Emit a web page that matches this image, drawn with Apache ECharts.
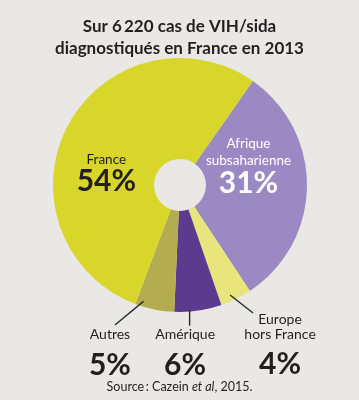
<!DOCTYPE html>
<html><head><meta charset="utf-8">
<script src="https://cdn.jsdelivr.net/npm/echarts@6/dist/echarts.min.js"></script>
<style>html,body{margin:0;padding:0;background:#e9e8e5;}#c{width:359px;height:400px;}</style>
</head><body><div id="c"></div>
<script>
var categories = ['Afrique subsaharienne', 'Europe hors France', 'Amérique', 'Autres', 'France'];
var labelTop = ['Afrique\nsubsaharienne', 'Europe\nhors France', 'Amérique', 'Autres', 'France'];
var values = [31, 4, 6, 5, 54];
var colors = ['#9b89c4', '#e9e57c', '#5c3b8f', '#b3ad50', '#d9d62b'];

var chart = echarts.init(document.getElementById('c'), null, {renderer: 'canvas'});
var FONT = 'Lato, "Open Sans", sans-serif';
var DARK = '#231f20';
// label placement tweaks, as offsets from the anchors of the library's pie layout
var inner = {
  0: {dx: -8, dy: -20},
  4: {dx: -6, dy: 24}
};
var outer = {
  1: {sx: -6, sy: -4, ex: 17, ey: 14, lx: 44, ly: 12.7},
  2: {sx: -8.5, sy: -1, ex: -8.5, ey: 15, lx: -13, ly: 16.5},
  3: {sx: -11, sy: -8, ex: -39.5, ey: 15.6, lx: -44.5, ly: 17.6}
};
function fmt(i) {
  return '{n|' + labelTop[i].split('\n').join('}\n{n|') + '}\n{p|' + values[i] + '%}';
}
// anchor points taken from the library's own sector layout
function anchor(i, which) {
  var lay = chart.getModel().getSeriesByIndex(0).getData().getItemLayout(i);
  var mid = (lay.startAngle + lay.endAngle) / 2;
  var rr = which === 'mid' ? (lay.r + lay.r0) / 2 : lay.r;
  return [lay.cx + rr * Math.cos(mid), lay.cy + rr * Math.sin(mid)];
}
chart.setOption({
  backgroundColor: '#e9e8e5',
  title: {
    text: 'Sur 6\u2009220 cas de VIH/sida\ndiagnostiqués en France en 2013',
    left: 'center', top: 11,
    textStyle: {fontFamily: FONT, fontWeight: 'bold', fontSize: 17, lineHeight: 22, color: DARK}
  },
  series: [{
    type: 'pie',
    center: [180, 185],
    radius: [26, 127],
    startAngle: 55,
    clockwise: true,
    animation: false,
    silent: true,
    data: categories.map(function (c, i) {
      var isInner = (i === 0 || i === 4);
      var white = (i === 0);
      return {
        name: c,
        value: values[i],
        itemStyle: {color: colors[i]},
        label: isInner ? {
          position: 'inside',
          overflow: 'none',
          formatter: fmt(i),
          rich: {
            n: {fontFamily: FONT, fontSize: 13.5, lineHeight: 17, color: white ? '#ffffff' : DARK, align: 'center'},
            p: {fontFamily: FONT, fontSize: 30, fontWeight: 'bold', lineHeight: 28, color: white ? '#ffffff' : DARK, align: 'center'}
          }
        } : {
          position: 'outside',
          overflow: 'none',
          formatter: fmt(i),
          rich: {
            n: {fontFamily: FONT, fontSize: 14, lineHeight: 15, color: DARK, align: 'center'},
            p: {fontFamily: FONT, fontSize: 30, fontWeight: 'bold', lineHeight: 46, color: DARK, align: 'center'}
          }
        },
        labelLine: {show: false}
      };
    }),
    labelLayout: function (p) {
      var i = p.dataIndex;
      if (inner[i]) {
        var a = anchor(i, 'mid');
        return {x: a[0] + inner[i].dx, y: a[1] + inner[i].dy, align: 'center', verticalAlign: 'middle'};
      }
      var o = outer[i];
      if (o) {
        var s = anchor(i, 'outer');
        return {x: s[0] + o.lx, y: s[1] + o.ly, align: 'center', verticalAlign: 'top'};
      }
      return {};
    }
  }]
});
var extra = [{
  type: 'text', left: 'center', top: 380, z: 100,
  style: {
    text: '{a|Source\u2009: Cazein }{b|et al}{a|, 2015.}',
    rich: {
      a: {fontFamily: FONT, fontSize: 12.5, fill: DARK},
      b: {fontFamily: FONT, fontSize: 12.5, fontStyle: 'italic', fill: DARK}
    }
  }
}];
Object.keys(outer).forEach(function (k) {
  var o = outer[k];
  var s = anchor(+k, 'outer');
  extra.push({
    type: 'line', z: 100, silent: true,
    shape: {x1: s[0] + o.sx, y1: s[1] + o.sy, x2: s[0] + o.ex, y2: s[1] + o.ey},
    style: {stroke: '#2a2a2a', lineWidth: 1.4}
  });
});
chart.setOption({graphic: extra});
</script>
</body></html>
